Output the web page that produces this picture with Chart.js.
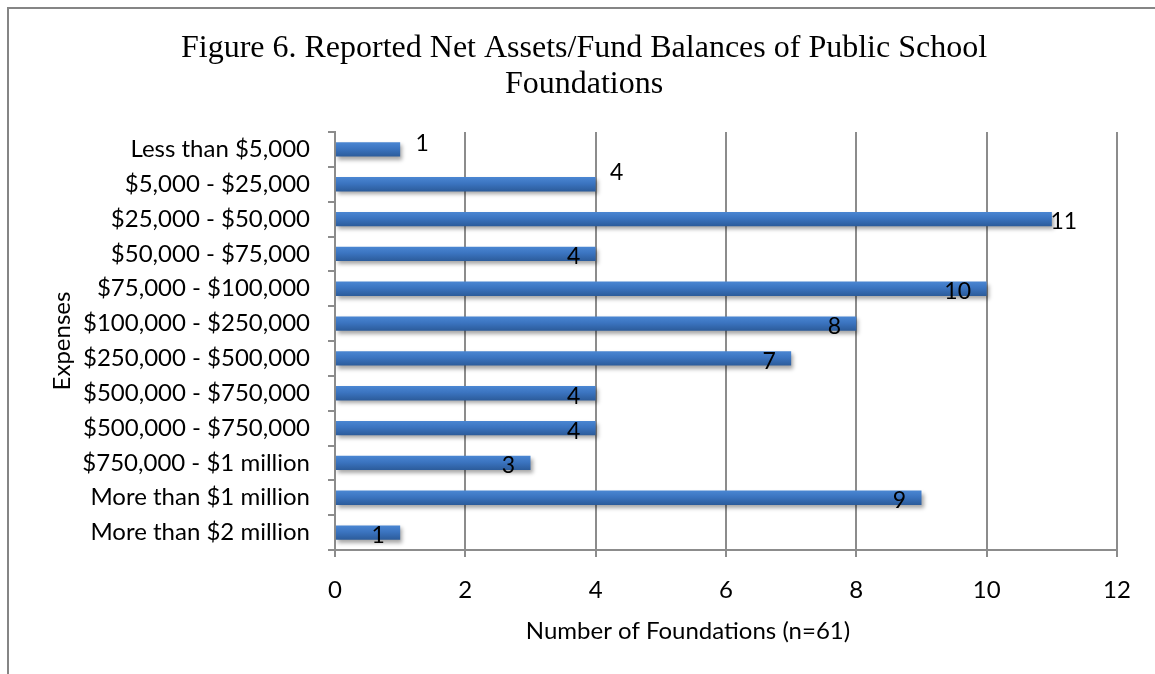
<!DOCTYPE html>
<html lang="en">
<head>
  <meta charset="UTF-8">
  <title>Net Assets of Public School Foundations</title>
  <script src="https://cdn.jsdelivr.net/npm/chart.js"></script>
  <style>
    html, body { margin: 0; padding: 0; background: #fff; }
    #wrap { width: 1155px; height: 674px; position: relative; }
  </style>
</head>
<body>
  <div id="wrap"><canvas id="assets-chart"></canvas></div>

  <script>
    // categories top to bottom, as printed
    var categories = [
      'Less than $5,000',
      '$5,000 - $25,000',
      '$25,000 - $50,000',
      '$50,000 - $75,000',
      '$75,000 - $100,000',
      '$100,000 - $250,000',
      '$250,000 - $500,000',
      '$500,000 - $750,000',
      '$500,000 - $750,000',
      '$750,000 - $1 million',
      'More than $1 million',
      'More than $2 million'
    ];
    var foundations = [1, 4, 11, 4, 10, 8, 7, 4, 4, 3, 9, 1];
    var xTicks = [0, 2, 4, 6, 8, 10, 12];
    var titleLines = ['Figure 6. Reported Net Assets/Fund Balances of Public School', 'Foundations'];
    var xTitle = 'Number of Foundations (n=61)';

    var sans = 'Lato, "Open Sans", sans-serif';
    var gridGray = '#8c8c8c';

    // grey frame along the top and left edge, the heading and the x axis caption
    var framePlugin = {
      id: 'frame',
      beforeDraw: function (chart) {
        var ctx = chart.ctx;
        ctx.save();
        ctx.strokeStyle = '#858585';
        ctx.lineWidth = 2;
        ctx.beginPath();
        ctx.moveTo(8, 674);
        ctx.lineTo(8, 8);
        ctx.lineTo(1155, 8);
        ctx.stroke();

        ctx.fillStyle = '#000';
        ctx.textAlign = 'center';
        ctx.textBaseline = 'middle';
        ctx.font = '32px "Liberation Serif", "Times New Roman", serif';
        titleLines.forEach(function (line, i) {
          ctx.fillText(line, 584, 49 + i * 36);
        });
        ctx.font = '24px ' + sans;
        ctx.fillText(xTitle, 688, 631);
        ctx.restore();
      }
    };

    // soft drop shadow under the bars
    var shadowPlugin = {
      id: 'barShadow',
      beforeDatasetsDraw: function (chart) {
        var ctx = chart.ctx;
        ctx.save();
        ctx.shadowColor = 'rgba(0,0,0,0.35)';
        ctx.shadowBlur = 4;
        ctx.shadowOffsetX = 2;
        ctx.shadowOffsetY = 3;
      },
      afterDatasetsDraw: function (chart) {
        chart.ctx.restore();
      }
    };

    // value labels; a few were pushed around by hand in the original sheet
    var nudges = {
      0: { dx: 22, dy: -6 },
      1: { dx: 21, dy: -12 },
      2: { dx: 12, dy: 2 },
      4: { dx: -29, dy: 3 }
    };
    var valueLabels = {
      id: 'valueLabels',
      afterDatasetsDraw: function (chart) {
        var ctx = chart.ctx;
        var meta = chart.getDatasetMeta(0);
        ctx.save();
        ctx.font = '23px ' + sans;
        ctx.fillStyle = '#000';
        ctx.textAlign = 'center';
        ctx.textBaseline = 'middle';
        meta.data.forEach(function (bar, i) {
          var n = nudges[i] || { dx: -22, dy: 3 };
          ctx.fillText(String(foundations[i]), bar.x + n.dx, bar.y + n.dy);
        });
        ctx.restore();
      }
    };

    function barFill(c) {
      var y = c.chart.scales.y;
      if (!y || y.top === undefined) return '#3a72be';
      var cy = y.getPixelForValue(c.dataIndex);
      var g = c.chart.ctx.createLinearGradient(0, cy - 7, 0, cy + 7);
      g.addColorStop(0, '#4a86d2');
      g.addColorStop(0.45, '#3b74c0');
      g.addColorStop(1, '#2c5c9b');
      return g;
    }

    var ctx = document.getElementById('assets-chart').getContext('2d');
    var chart = new Chart(ctx, {
      type: 'bar',
      data: {
        labels: categories,
        datasets: [{
          label: 'Foundations',
          data: foundations,
          backgroundColor: barFill,
          borderWidth: 0,
          categoryPercentage: 0.41,
          barPercentage: 1
        }]
      },
      options: {
        indexAxis: 'y',
        responsive: true,
        maintainAspectRatio: false,
        animation: false,
        layout: { padding: { left: 0, right: 38, top: 132, bottom: 0 } },
        plugins: {
          legend: { display: false },
          tooltip: { enabled: false },
          title: { display: false }
        },
        scales: {
          x: {
            min: 0,
            max: 12,
            afterBuildTicks: function (scale) {
              scale.ticks = xTicks.map(function (v) { return { value: v }; });
            },
            afterFit: function (scale) { scale.height = 124; },
            grid: { color: gridGray, lineWidth: 2, tickLength: 7, tickColor: gridGray },
            border: { color: gridGray, width: 2 },
            ticks: { color: '#000', font: { family: sans, size: 24 }, padding: 19 },
            title: { display: false }
          },
          y: {
            afterFit: function (scale) { scale.width = 335; },
            grid: { drawOnChartArea: false, color: gridGray, lineWidth: 2, tickLength: 7, offset: true },
            border: { color: gridGray, width: 2 },
            ticks: { color: '#000', font: { family: sans, size: 24 }, padding: 18, autoSkip: false },
            title: {
              display: true,
              text: 'Expenses',
              color: '#000',
              font: { family: sans, size: 24 },
              padding: { top: 48, bottom: 0 }
            }
          }
        }
      },
      plugins: [framePlugin, shadowPlugin, valueLabels]
    });
  </script>
</body>
</html>
